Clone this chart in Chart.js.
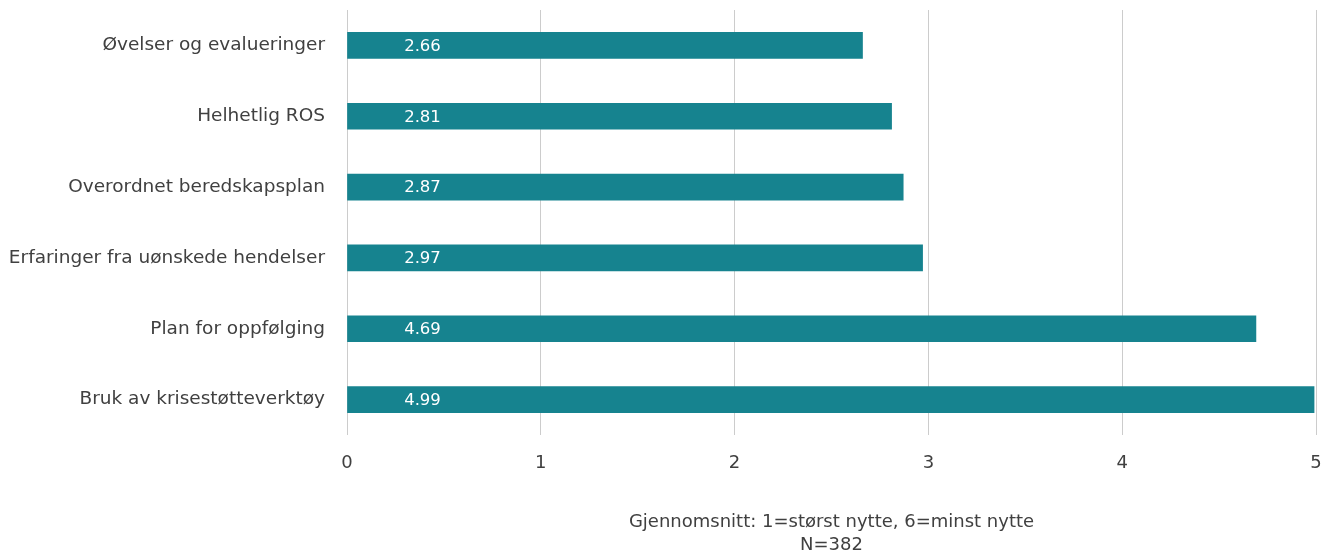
<!DOCTYPE html>
<html>
<head>
<meta charset="utf-8">
<script src="https://cdn.jsdelivr.net/npm/chart.js@4/dist/chart.umd.min.js"></script>
<style>
  html, body { margin: 0; padding: 0; background: #fff; }
  #wrap { width: 1333px; height: 557px; }
</style>
</head>
<body>
<div id="wrap"><canvas id="graphique" width="1333" height="557"></canvas></div>
<script>
// Kategorier og gjennomsnittsverdier
const kategorier = [
    "Øvelser og evalueringer",
    "Helhetlig ROS",
    "Overordnet beredskapsplan",
    "Erfaringer fra uønskede hendelser",
    "Plan for oppfølging",
    "Bruk av krisestøtteverktøy"
];
const verdier = [2.66, 2.81, 2.87, 2.97, 4.69, 4.99];
const aksetittel = ["Gjennomsnitt: 1=størst nytte, 6=minst nytte", "N=382"];

const fargeStolpe = "#16838f";
const fargeTekst = "#404040";
const fontNavn = "'DejaVu Sans', sans-serif";

// Skriver verdiene inne i stolpene
const etiketter = {
    id: "etiketter",
    afterDatasetsDraw(chart) {
        const ctx = chart.ctx;
        const meta = chart.getDatasetMeta(0);
        ctx.save();
        ctx.fillStyle = "#ffffff";
        ctx.font = "16.5px " + fontNavn;
        ctx.textAlign = "center";
        ctx.textBaseline = "middle";
        meta.data.forEach((bar, i) => {
            ctx.fillText(verdier[i].toFixed(2), bar.base + 75, bar.y + 1);
        });
        ctx.restore();
    }
};

new Chart(document.getElementById("graphique"), {
    type: "bar",
    data: {
        labels: kategorier,
        datasets: [{
            data: verdier,
            backgroundColor: fargeStolpe,
            barThickness: 26
        }]
    },
    options: {
        indexAxis: "y",
        responsive: false,
        animation: false,
        layout: { padding: { top: 10, right: 17, bottom: 0, left: 0 } },
        plugins: {
            legend: { display: false },
            tooltip: { enabled: false }
        },
        scales: {
            x: {
                min: 0,
                max: 5,
                ticks: { stepSize: 1, color: fargeTekst, font: { size: 18, family: fontNavn }, padding: 18 },
                grid: { color: "#cccccc", drawTicks: false },
                border: { display: false },
                title: {
                    display: true,
                    text: aksetittel,
                    color: fargeTekst,
                    font: { size: 18, family: fontNavn, lineHeight: 1.3 },
                    padding: { top: 40, bottom: 0 }
                },
                afterFit: (s) => { s.height = 122; s.paddingRight = 0; s.paddingLeft = 0; }
            },
            y: {
                ticks: { color: fargeTekst, font: { size: 18.5, family: fontNavn }, padding: 14 },
                grid: { display: false },
                border: { display: false },
                afterFit: (s) => { s.width = 347; s.paddingTop = 0; s.paddingBottom = 0; }
            }
        }
    },
    plugins: [etiketter]
});
</script>
</body>
</html>
